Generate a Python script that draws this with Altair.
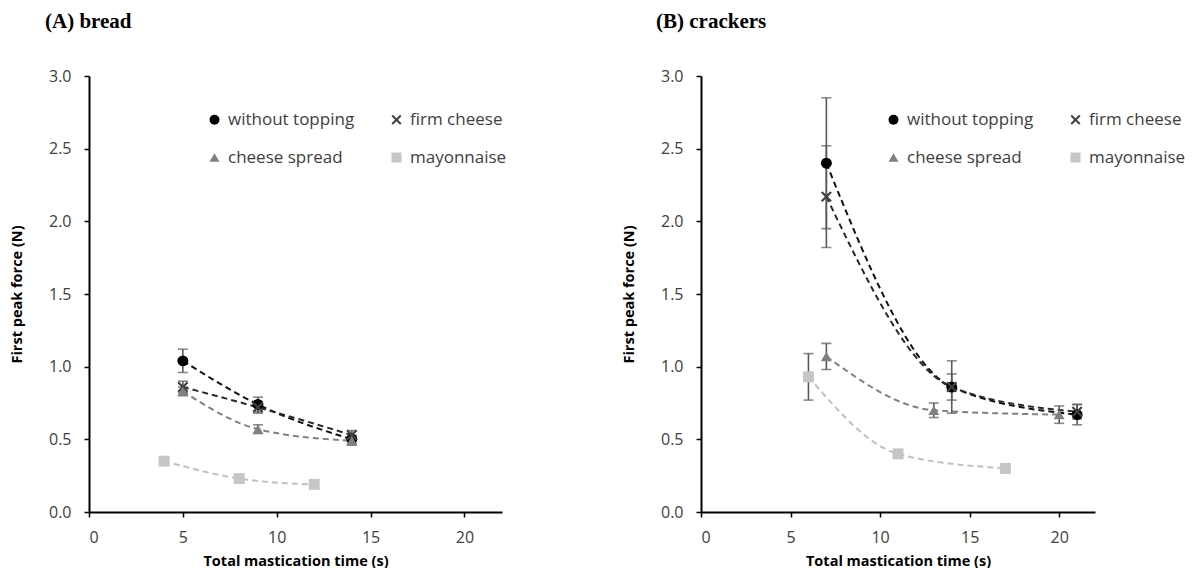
import altair as alt
import pandas as pd

SERIES = ["without topping", "firm cheese", "cheese spread", "mayonnaise"]

# ---- (A) bread ----
bread_without_time = [5, 9, 14]
bread_without_force = [1.04, 0.74, 0.50]
bread_without_err = [0.08, 0.05, 0.03]

bread_firm_time = [5, 9, 14]
bread_firm_force = [0.86, 0.72, 0.53]
bread_firm_err = [0.04, 0.04, 0.03]

bread_spread_time = [5, 9, 14]
bread_spread_force = [0.83, 0.57, 0.49]
bread_spread_err = [0.03, 0.03, 0.03]

bread_mayo_time = [4, 8, 12]
bread_mayo_force = [0.35, 0.23, 0.19]
bread_mayo_err = [0.0, 0.0, 0.0]

# ---- (B) crackers ----
crack_without_time = [7, 14, 21]
crack_without_force = [2.40, 0.86, 0.67]
crack_without_err = [0.45, 0.18, 0.07]

crack_firm_time = [7, 14, 21]
crack_firm_force = [2.17, 0.86, 0.69]
crack_firm_err = [0.35, 0.09, 0.05]

crack_spread_time = [7, 13, 20]
crack_spread_force = [1.07, 0.70, 0.67]
crack_spread_err = [0.09, 0.05, 0.06]

crack_mayo_time = [6, 11, 17]
crack_mayo_force = [0.93, 0.40, 0.30]
crack_mayo_err = [0.16, 0.0, 0.0]

x_ticks = [0, 5, 10, 15, 20]
y_ticks = [0.0, 0.5, 1.0, 1.5, 2.0, 2.5, 3.0]

MARKER_COLORS = ["#000000", "#404040", "#808080", "#c6c6c6"]
LINE_COLORS = ["#111111", "#2a2a2a", "#808080", "#c0c0c0"]
X_PATH = ("M-1,-0.72L-0.72,-1L0,-0.28L0.72,-1L1,-0.72L0.28,0L1,0.72L0.72,1"
          "L0,0.28L-0.72,1L-1,0.72L-0.28,0Z")
SHAPES = ["circle", X_PATH, "triangle-up", "square"]


def build_frame(groups):
    rows = []
    for name, (times, forces, errs) in zip(SERIES, groups):
        for t, f, e in zip(times, forces, errs):
            rows.append({"series": name, "time": t, "force": f,
                         "lo": f - e, "hi": f + e, "err": e})
    return pd.DataFrame(rows)


bread_df = build_frame([
    (bread_without_time, bread_without_force, bread_without_err),
    (bread_firm_time, bread_firm_force, bread_firm_err),
    (bread_spread_time, bread_spread_force, bread_spread_err),
    (bread_mayo_time, bread_mayo_force, bread_mayo_err),
])
crack_df = build_frame([
    (crack_without_time, crack_without_force, crack_without_err),
    (crack_firm_time, crack_firm_force, crack_firm_err),
    (crack_spread_time, crack_spread_force, crack_spread_err),
    (crack_mayo_time, crack_mayo_force, crack_mayo_err),
])


def panel(df, title, title_dx, width, legend_x):
    x_axis = alt.Axis(values=x_ticks, title="Total mastication time (s)",
                      labelPadding=12, titlePadding=9, grid=False)
    y_axis = alt.Axis(values=y_ticks, format=".1f", title="First peak force (N)",
                      labelPadding=13, titlePadding=24, grid=False)
    xs = alt.Scale(domain=[0, 22], nice=False, zero=True)
    ys = alt.Scale(domain=[0, 3], nice=False)

    def X(f):
        return alt.X(f, scale=xs, axis=x_axis)

    def Y(f):
        return alt.Y(f, scale=ys, axis=y_axis)

    legend = alt.Legend(title=None, orient="none", legendX=legend_x, legendY=35,
                        direction="horizontal",
                        columns=2, columnPadding=33, rowPadding=20,
                        labelFont="Open Sans", labelFontSize=17,
                        labelColor="#404040", symbolSize=100,
                        symbolStrokeWidth=0, labelOffset=5, padding=0)

    base = alt.Chart(df)
    lines = base.mark_line(strokeDash=[6, 4], strokeWidth=2,
                           interpolate="monotone").encode(
        x=X("time:Q"), y=Y("force:Q"),
        stroke=alt.Stroke("series:N", scale=alt.Scale(domain=SERIES, range=LINE_COLORS),
                          legend=None),
    )
    errbase = base.transform_filter("datum.err > 0")
    rules = errbase.mark_rule(color="#595959", strokeWidth=1.6).encode(
        x=X("time:Q"), y=Y("lo:Q"), y2="hi:Q")
    cap_lo = errbase.mark_tick(orient="horizontal", size=10, thickness=1.6,
                               color="#595959").encode(x=X("time:Q"), y=Y("lo:Q"))
    cap_hi = errbase.mark_tick(orient="horizontal", size=10, thickness=1.6,
                               color="#595959").encode(x=X("time:Q"), y=Y("hi:Q"))
    points = base.mark_point(filled=True, size=120, opacity=1).encode(
        x=X("time:Q"), y=Y("force:Q"),
        color=alt.Color("series:N", scale=alt.Scale(domain=SERIES, range=MARKER_COLORS),
                        legend=legend),
        shape=alt.Shape("series:N", scale=alt.Scale(domain=SERIES, range=SHAPES),
                        legend=legend),
    )
    return alt.layer(lines, rules, cap_lo, cap_hi, points).properties(
        width=width, height=436,
        title=alt.TitleParams(title, anchor="start", frame="group",
                              font="Liberation Serif",
                              fontSize=21, fontWeight="bold", color="black",
                              dx=title_dx, offset=36),
    )


chart = alt.hconcat(
    panel(bread_df, "(A) bread", -44, 413, 117),
    panel(crack_df, "(B) crackers", -45, 394, 184),
    spacing=114,
).resolve_legend(color="independent", shape="independent").properties(
    padding={"left": 1, "top": 3, "right": 0, "bottom": 0},
    background="white",
).configure_view(stroke=None).configure_axis(
    grid=False, labelFont="Open Sans", labelFontSize=16, labelColor="#404040",
    titleFont="Open Sans", titleFontSize=14.5, titleFontWeight="bold",
    titleColor="#000000", domainColor="#000000", domainWidth=2,
    tickColor="#000000", tickSize=5, tickWidth=1.5,
)

chart.save("out.html", embed_options={"renderer": "svg", "actions": False})
